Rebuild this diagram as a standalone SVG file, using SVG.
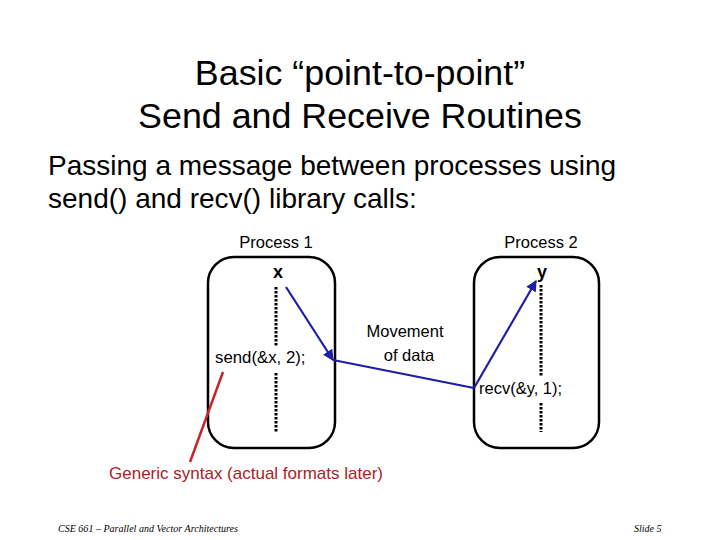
<svg xmlns="http://www.w3.org/2000/svg" width="720" height="540" viewBox="0 0 720 540">
<style>
.t{font-family:"Liberation Sans",Arial,sans-serif;fill:#000}
.box{fill:none;stroke:#000;stroke-width:2.5}
.dot{stroke:#000;stroke-width:3;stroke-dasharray:2.5 1.5}
.blue{stroke:#1c1ca8;stroke-width:2.2;fill:none}
.foot{font-family:"Liberation Serif","Times New Roman",serif;font-style:italic;font-size:10px;fill:#000}
</style>
<defs>
<marker id="ah" viewBox="0 0 10 10" refX="9" refY="5" markerWidth="5" markerHeight="5" orient="auto" markerUnits="strokeWidth">
<path d="M0,0 L10,5 L0,10 z" fill="#1c1ca8"/>
</marker>
</defs>
<rect width="720" height="540" fill="#fff"/>
<g id="title">
<text class="t" x="360" y="85" font-size="35.8" text-anchor="middle">Basic “point-to-point”</text>
<text class="t" x="360" y="128" font-size="35.8" text-anchor="middle">Send and Receive Routines</text>
</g>
<g id="body">
<text class="t" x="48" y="175" font-size="28">Passing a message between processes using</text>
<text class="t" x="48" y="208" font-size="28">send() and recv() library calls:</text>
</g>
<g id="process1">
<text class="t" x="276" y="248" font-size="16.5" text-anchor="middle">Process 1</text>
<rect class="box" x="208" y="257" width="127" height="191" rx="26"/>
<text class="t" x="278" y="278" font-size="18" font-weight="bold" text-anchor="middle">x</text>
<line class="dot" x1="276" y1="287" x2="276" y2="346"/>
<line class="dot" x1="276" y1="373" x2="276" y2="432"/>
<text class="t" x="215" y="363" font-size="16.8">send(&amp;x, 2);</text>
</g>
<g id="process2">
<text class="t" x="541" y="248" font-size="16.5" text-anchor="middle">Process 2</text>
<rect class="box" x="474" y="257" width="125" height="191" rx="26"/>
<text class="t" x="542" y="278" font-size="18" font-weight="bold" text-anchor="middle">y</text>
<line class="dot" x1="541" y1="285" x2="541" y2="377"/>
<line class="dot" x1="541" y1="403" x2="541" y2="432"/>
<text class="t" x="479" y="394" font-size="16.5">recv(&amp;y, 1);</text>
</g>
<g id="movement">
<text class="t" x="405" y="337" font-size="16.5" text-anchor="middle">Movement</text>
<text class="t" x="409" y="361" font-size="16.5" text-anchor="middle">of data</text>
</g>
<g id="note">
<text x="109" y="479" font-family="Liberation Sans,Arial,sans-serif" font-size="17" fill="#b02024">Generic syntax (actual formats later)</text>
</g>
<g id="connectors">
<line class="blue" x1="286" y1="287" x2="333" y2="360" marker-end="url(#ah)"/>
<line class="blue" x1="333" y1="360" x2="474" y2="388"/>
<line class="blue" x1="474" y1="388" x2="536" y2="281" marker-end="url(#ah)"/>
<line x1="223" y1="372" x2="190" y2="462" stroke="#c4262a" stroke-width="2.5"/>
</g>
<g id="footer">
<text class="foot" x="58" y="532" textLength="180">CSE 661 – Parallel and Vector Architectures</text>
<text class="foot" x="634" y="532">Slide 5</text>
</g>
</svg>
